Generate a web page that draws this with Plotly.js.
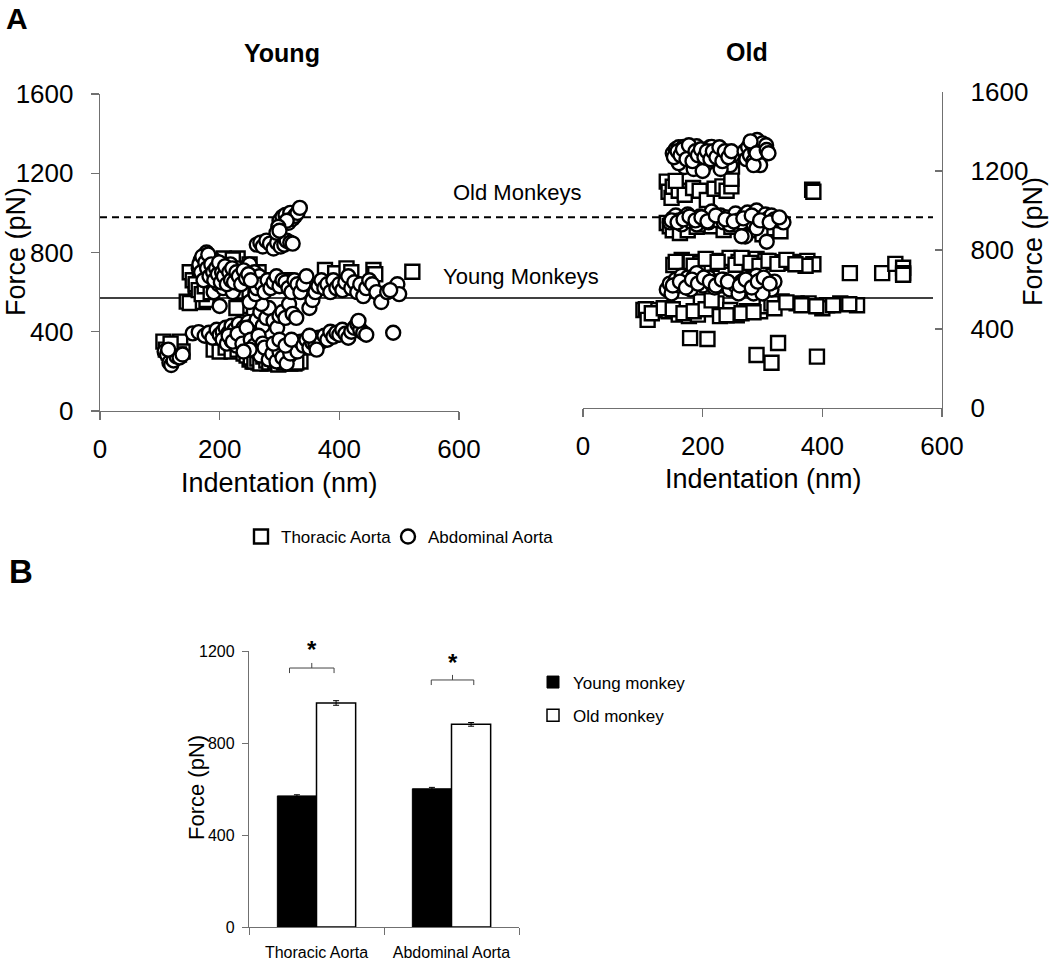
<!DOCTYPE html>
<html>
<head>
<meta charset="utf-8">
<script src="https://cdn.plot.ly/plotly-3.0.1.min.js"></script>
<style>html,body{margin:0;padding:0;background:#fff;}#chart{width:1050px;height:964px;}</style>
</head>
<body>
<div id="chart"></div>
<script>
// ---------------- DATA ----------------
// Panel A - Young monkeys, thoracic aorta (indentation nm, force pN)
const youngThoracicX = [106,110,115,125,134,138,132,118,145,150,172,178,234,228,150,155,160,167,
  170,175,180,185,190,195,200,205,210,215,220,225,230,235,240,245,250,255,260,265,270,280,290,300,310,320,
  207,222,376,393,412,420,457,460,522,
  160,165,170,175,185,250,260,270,
  190,200,210,220,230,240,250,255,260,265,270,275,280,285,290,295,300,305,310,315,320,325,330,335,
  245,252,258,263,268,273,278,283,288,293,298,303,308,313,318,323,328];
const youngThoracicY = [350,310,295,330,350,300,285,340,552,545,550,560,530,520,700,660,627,690,
  680,720,650,700,740,660,700,720,680,760,740,700,770,650,720,690,740,670,650,700,640,660,650,640,660,650,
  770,765,712,695,720,700,712,690,703,
  640,610,590,630,600,610,600,620,
  310,300,320,300,310,290,260,250,270,245,260,250,240,255,245,260,240,250,245,260,250,240,265,250,
  280,270,250,265,240,275,255,245,265,250,235,260,245,270,240,255,245];

// Panel A - Young monkeys, abdominal aorta
const youngAbdominalX = [108,112,116,119,123,128,133,138,114,
  155,165,175,182,188,195,200,205,210,215,220,225,232,240,248,255,
  205,212,220,228,235,242,250,258,262,268,272,278,282,290,296,300,305,310,316,322,328,262,270,250,260,
  215,222,230,238,245,252,258,265,272,278,285,292,298,304,311,317,324,330,
  260,268,275,282,288,295,300,305,312,318,325,330,335,290,300,310,320,250,240,
  340,345,350,355,360,365,370,375,380,385,390,395,400,405,410,415,420,425,430,435,440,445,432,350,362,
  490,
  165,168,170,172,175,178,180,182,185,188,190,192,195,198,200,203,206,210,214,218,222,226,230,234,238,242,246,250,255,258,262,266,270,275,280,285,290,295,300,305,310,315,320,325,330,335,340,345,350,355,360,365,370,375,380,385,390,395,400,405,410,415,420,425,430,435,440,445,450,455,462,470,480,492,497,500,485,
  166,169,171,173,176,179,181,183,186,189,191,194,197,199,202,204,207,209,212,216,219,221,224,228,232,236,240,244,248,252,
  262,268,272,278,284,290,296,302,308,312,318,322,
  300,305,310,315,318,322,326,330,334,312,298,295,300];
const youngAbdominalY = [300,285,245,232,255,275,270,285,310,
  392,398,380,395,370,410,385,400,420,395,430,410,440,420,450,430,
  360,340,355,330,370,345,400,380,460,500,430,470,520,455,420,480,500,470,540,490,470,560,540,550,590,
  380,350,390,340,420,360,330,380,340,300,310,280,330,290,320,280,300,340,
  300,280,320,260,290,250,300,270,240,290,330,300,350,340,360,330,360,310,300,
  330,360,320,345,340,370,350,380,360,400,375,395,385,410,390,370,400,420,440,410,395,385,455,380,310,
  395,
  720,760,700,740,780,800,770,690,650,720,600,760,680,640,530,720,620,700,660,740,600,680,720,640,690,700,660,740,650,700,620,680,640,600,660,620,650,680,630,660,650,620,600,660,640,600,640,680,520,560,600,630,660,620,640,600,660,620,640,610,650,680,620,650,600,640,580,620,660,640,600,550,600,620,640,590,610,
  740,700,780,660,750,720,790,680,740,700,660,720,690,750,650,700,680,730,640,700,660,720,650,700,680,640,710,670,690,660,
  840,850,830,860,845,820,850,830,840,860,850,845,
  960,980,990,950,1000,970,985,1000,1025,960,930,900,910];

// Panel A - Old monkeys, thoracic aorta
const oldThoracicX = [140,143,148,150,160,170,184,195,207,220,233,240,248,248,249,155,
  383,385,
  140,145,150,162,175,190,200,215,235,248,260,270,285,300,320,330,
  151,165,180,196,215,230,245,260,275,290,305,320,335,350,362,375,385,372,
  155,185,205,225,255,265,280,295,310,325,340,355,
  446,500,522,535,535,535,
  101,105,108,126,143,160,177,192,197,223,229,246,257,274,296,307,332,357,377,408,430,458,400,
  115,135,150,168,185,205,215,240,265,285,315,320,340,365,390,418,445,
  179,208,290,315,326,391];
const oldThoracicY = [1146,1095,1064,1120,1100,1080,1114,1100,1053,1110,1122,1100,1122,1160,1222,1150,
  1105,1095,
  937,920,900,886,900,918,930,920,901,918,930,890,900,880,910,895,
  724,750,740,732,730,745,760,740,745,755,745,738,735,740,735,745,728,720,
  740,720,755,740,725,760,735,720,745,730,750,728,
  683,683,730,710,683,675,
  496,500,446,496,490,473,465,473,540,530,465,496,470,490,490,515,540,530,530,520,530,520,505,
  480,505,500,480,490,500,545,470,480,485,530,505,535,520,515,520,525,
  354,349,268,229,329,260];

// Panel A - Old monkeys, abdominal aorta
const oldAbdominalX = [150,155,160,165,168,172,175,178,182,186,190,194,198,200,204,208,212,215,218,222,226,230,234,238,242,246,250,170,185,200,160,230,
  152,158,163,167,173,177,183,188,192,197,203,207,213,217,223,228,233,237,243,248,
  270,273,276,279,282,285,288,291,294,297,300,303,306,296,285,280,290,307,310,
  145,150,155,160,165,170,175,180,185,190,195,200,205,210,215,220,225,230,235,240,245,250,255,260,265,270,275,280,285,290,295,300,305,310,315,320,325,335,271,307,265,290,
  148,158,168,178,188,198,208,222,238,252,268,282,296,312,328,
  140,145,148,155,160,165,170,175,180,185,190,195,200,205,210,215,220,225,230,235,240,245,255,260,265,270,275,280,285,290,295,300,305,310,315,320,285,300,
  150,162,172,182,192,202,212,222,232,242,262,272,282,292,302,312];
const oldAbdominalY = [1290,1310,1320,1260,1322,1290,1240,1300,1270,1320,1325,1280,1250,1300,1230,1280,1320,1322,1260,1290,1240,1300,1270,1250,1290,1230,1280,1220,1210,1200,1240,1210,
  1270,1300,1280,1310,1260,1330,1250,1300,1280,1310,1270,1300,1260,1300,1270,1320,1250,1300,1270,1300,
  1300,1260,1320,1280,1340,1250,1300,1357,1320,1270,1340,1300,1330,1230,1230,1350,1290,1306,1290,
  940,960,975,950,930,965,980,945,960,930,970,955,950,940,995,960,950,975,940,965,930,960,985,950,940,975,990,960,930,1000,960,945,980,960,975,955,950,940,868,842,870,910,
  950,940,955,970,950,965,945,975,955,945,960,975,950,940,965,
  600,630,580,650,620,670,640,660,600,665,683,640,620,650,660,630,610,640,620,650,630,600,620,580,640,650,620,660,640,670,645,610,640,620,600,640,580,580,
  620,640,610,650,630,660,640,620,650,640,620,650,610,640,660,630];

// Reference lines (mean force)
const oldMeanForce = 978;
const youngMeanForce = 570;

// Panel B - bar chart
const barCategories = ["Thoracic Aorta", "Abdominal Aorta"];
const youngMonkeyForce = [570, 601];
const oldMonkeyForce = [974, 881];
const youngMonkeyErr = [5, 6];
const oldMonkeyErr = [10, 8];

// ---------------- LAYOUT HELPERS ----------------
const W = 1050, H = 964;
const px = v => v / W;
const py = v => 1 - v / H;
const FONT = 'Liberation Sans, Arial, sans-serif';
const AXC = '#707070';

const mk = (sym) => ({symbol: sym, size: 14, color: '#ffffff', line: {color: '#000000', width: 2.4}});

const traces = [
  {type:'scatter', mode:'markers', x: youngThoracicX, y: youngThoracicY, xaxis:'x', yaxis:'y',
   marker: mk('square'), name:'Thoracic Aorta', legend:'legend', cliponaxis:false},
  {type:'scatter', mode:'markers', x: oldThoracicX, y: oldThoracicY, xaxis:'x2', yaxis:'y2',
   marker: mk('square'), name:'Thoracic Aorta', showlegend:false, cliponaxis:false},
  {type:'scatter', mode:'markers', x: youngAbdominalX, y: youngAbdominalY, xaxis:'x', yaxis:'y',
   marker: mk('circle'), name:'Abdominal Aorta', legend:'legend3', cliponaxis:false},
  {type:'scatter', mode:'markers', x: oldAbdominalX, y: oldAbdominalY, xaxis:'x2', yaxis:'y2',
   marker: mk('circle'), name:'Abdominal Aorta', showlegend:false, cliponaxis:false},
  {type:'bar', x: barCategories, y: youngMonkeyForce, xaxis:'x3', yaxis:'y3', name:'Young monkey',
   legend:'legend2', legendgroup:'y',
   marker:{color:'#000000', line:{color:'#000000', width:1}},
   error_y:{type:'data', array: youngMonkeyErr, color:'#000000', thickness:1, width:3}},
  {type:'bar', x: barCategories, y: oldMonkeyForce, xaxis:'x3', yaxis:'y3', name:'Old monkey',
   legend:'legend2', legendgroup:'o',
   marker:{color:'#ffffff', line:{color:'#000000', width:1.5}},
   error_y:{type:'data', array: oldMonkeyErr, color:'#000000', thickness:1, width:3}}
];

const axA = {
  showgrid:false, zeroline:false, showline:true, linecolor:AXC, linewidth:1.3,
  ticks:'outside', ticklen:8, tickcolor:AXC, tickwidth:1.3,
  tickfont:{family:FONT, size:26, color:'#000'}
};

const brackets = [
  {cat:0, x0:-0.2, x1:0.13, y:1126, d:22, starPx:649},
  {cat:1, x0:-0.15, x1:0.165, y:1074, d:22, starPx:662}
];
const shapes = [
  {type:'line', xref:'paper', yref:'y', x0:px(100), x1:px(933), y0:oldMeanForce, y1:oldMeanForce,
   line:{color:'#000', width:2, dash:'7px,5px'}, layer:'below'},
  {type:'line', xref:'paper', yref:'y', x0:px(100), x1:px(933), y0:youngMeanForce, y1:youngMeanForce,
   line:{color:'#000', width:1.6}, layer:'below'}
];
const bl = {color:'#444', width:1};
brackets.forEach(b => {
  const c = b.cat, mid = c + (b.x0 + b.x1) / 2;
  shapes.push({type:'line', xref:'x3', yref:'y3', x0:c+b.x0, x1:c+b.x1, y0:b.y, y1:b.y, line:bl});
  shapes.push({type:'line', xref:'x3', yref:'y3', x0:c+b.x0, x1:c+b.x0, y0:b.y, y1:b.y-b.d, line:bl});
  shapes.push({type:'line', xref:'x3', yref:'y3', x0:c+b.x1, x1:c+b.x1, y0:b.y, y1:b.y-b.d, line:bl});
  shapes.push({type:'line', xref:'x3', yref:'y3', x0:mid, x1:mid, y0:b.y, y1:b.y+b.d, line:bl});
});

const ann = (text, x, y, size, opts) => Object.assign({
  text, x:px(x), y:py(y), xref:'paper', yref:'paper', showarrow:false,
  xanchor:'center', yanchor:'middle', font:{family:FONT, size, color:'#000'}}, opts || {});

const annotations = [
  ann('<b>A</b>', 17, 18, 30),
  ann('<b>B</b>', 21, 571, 33),
  ann('<b>Young</b>', 282, 53, 25),
  ann('<b>Old</b>', 747, 52, 25),
  ann('Old Monkeys', 517, 193, 22),
  ann('Young Monkeys', 521, 276, 22),
  ann('Indentation (nm)', 279, 483, 27),
  ann('Indentation (nm)', 763, 479, 27),
  ann('Force (pN)', 16, 252, 27, {textangle:-90}),
  ann('Force (pN)', 1033, 242, 27, {textangle:-90}),
  ann('Force (pN)', 196, 788, 22, {textangle:-90})
];
brackets.forEach(b => {
  annotations.push({text:'<b>*</b>', xref:'x3', yref:'paper', x:b.cat + (b.x0 + b.x1) / 2, y:py(b.starPx),
    showarrow:false, xanchor:'center', yanchor:'middle', font:{family:FONT, size:24, color:'#000'}});
});

const legendBase = {bgcolor:'rgba(0,0,0,0)', borderwidth:0, itemclick:false, itemdoubleclick:false,
  font:{family:FONT, size:17, color:'#000'}};

const layout = {
  width:W, height:H, margin:{l:0, r:0, t:0, b:0},
  paper_bgcolor:'#fff', plot_bgcolor:'rgba(0,0,0,0)',
  font:{family:FONT, color:'#000'},
  xaxis: Object.assign({}, axA, {domain:[px(100), px(459)], range:[0,600], tickvals:[0,200,400,600], anchor:'y', ticklabelstandoff:6}),
  yaxis: Object.assign({}, axA, {domain:[py(411), py(94)], range:[0,1600], tickvals:[0,400,800,1200,1600], anchor:'x', ticklabelstandoff:12}),
  xaxis2: Object.assign({}, axA, {domain:[px(583), px(942)], range:[0,600], tickvals:[0,200,400,600], anchor:'y2', ticklabelstandoff:6}),
  yaxis2: Object.assign({}, axA, {domain:[py(408), py(92)], range:[0,1600], tickvals:[0,400,800,1200,1600], anchor:'x2', side:'right', ticks:'inside', ticklen:7, ticklabelstandoff:22}),
  xaxis3: {domain:[px(249), px(519)], anchor:'y3', type:'category', showgrid:false, zeroline:false,
    showline:true, linecolor:AXC, linewidth:1.2, ticks:'outside', tickson:'boundaries', ticklen:7, tickcolor:AXC,
    tickangle:0, tickfont:{family:FONT, size:16, color:'#000'}, ticklabelstandoff:11},
  yaxis3: {domain:[py(927), py(651)], anchor:'x3', range:[0,1200], tickvals:[0,400,800,1200], showgrid:false, zeroline:false,
    showline:true, linecolor:AXC, linewidth:1.2, ticks:'outside', ticklen:6, tickcolor:AXC,
    tickfont:{family:FONT, size:16, color:'#000'}, ticklabelstandoff:4},
  barmode:'group', bargap:0.42, bargroupgap:0,
  showlegend:true,
  legend: Object.assign({}, legendBase, {orientation:'h', x:px(241), xanchor:'left', y:py(537), yanchor:'middle'}),
  legend3: Object.assign({}, legendBase, {orientation:'h', x:px(388), xanchor:'left', y:py(537), yanchor:'middle'}),
  legend2: Object.assign({}, legendBase, {orientation:'v', x:px(533), xanchor:'left', y:py(699), yanchor:'middle', tracegroupgap:8}),
  shapes, annotations
};

Plotly.newPlot('chart', traces, layout, {staticPlot:true, displayModeBar:false});
</script>
</body>
</html>
